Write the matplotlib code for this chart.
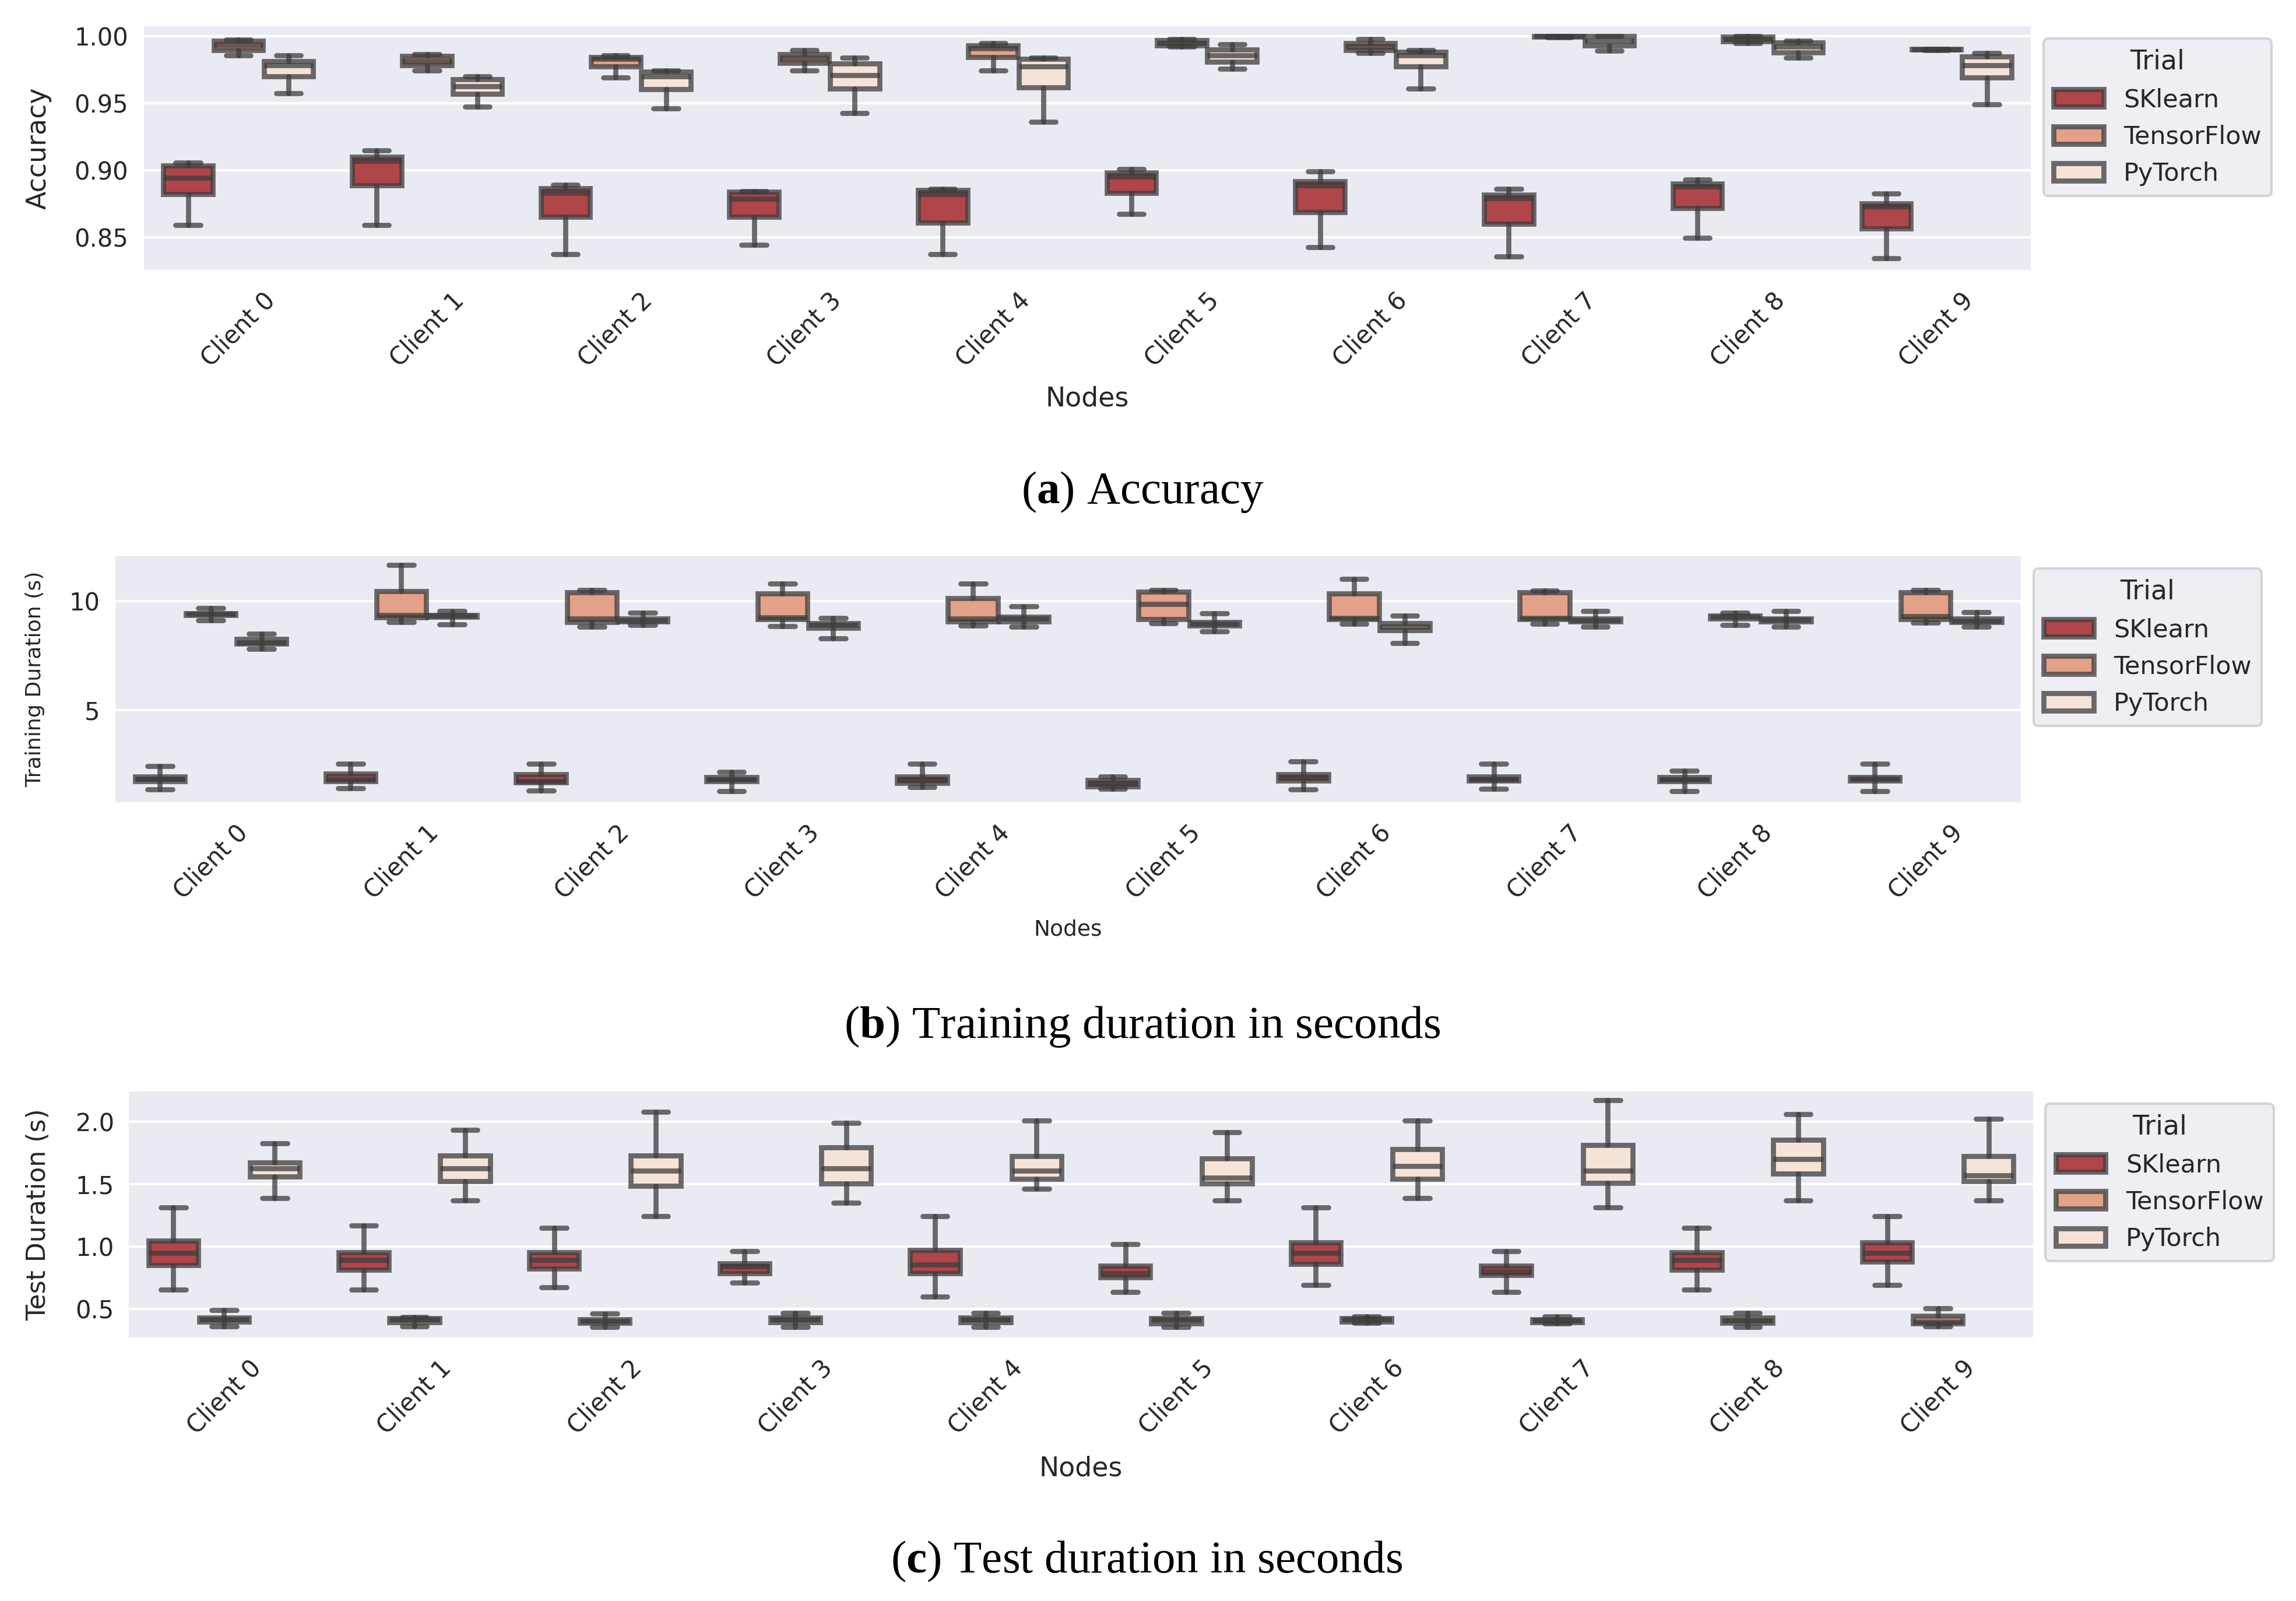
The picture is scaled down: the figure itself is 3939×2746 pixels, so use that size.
import matplotlib
matplotlib.use("Agg")
import matplotlib.pyplot as plt
import seaborn as sns
from matplotlib.patches import Patch

# ---------------- data ----------------
clients = [f"Client {i}" for i in range(10)]
trials = ["SKlearn", "TensorFlow", "PyTorch"]

# each entry: (whisker low, Q1, median, Q3, whisker high)
acc_sklearn = [(0.8593, 0.8823, 0.8943, 0.9033, 0.9055), (0.8593, 0.8888, 0.9070, 0.9099, 0.9147),
               (0.8375, 0.8651, 0.8830, 0.8866, 0.8891), (0.8443, 0.8651, 0.8787, 0.8838, 0.8845),
               (0.8375, 0.8608, 0.8820, 0.8852, 0.8859), (0.8675, 0.8830, 0.8953, 0.8981, 0.9010),
               (0.8425, 0.8687, 0.8888, 0.8917, 0.8991), (0.8356, 0.8601, 0.8790, 0.8816, 0.8859),
               (0.8493, 0.8717, 0.8877, 0.8899, 0.8929), (0.8342, 0.8565, 0.8730, 0.8751, 0.8826)]
acc_tensorflow = [(0.9858, 0.9897, 0.9933, 0.9966, 0.9972), (0.9744, 0.9782, 0.9815, 0.9851, 0.9865),
                  (0.9693, 0.9775, 0.9830, 0.9845, 0.9858), (0.9744, 0.9800, 0.9837, 0.9865, 0.9897),
                  (0.9744, 0.9844, 0.9910, 0.9930, 0.9948), (0.9923, 0.9930, 0.9950, 0.9970, 0.9980),
                  (0.9872, 0.9897, 0.9923, 0.9948, 0.9980), (0.9990, 0.9995, 1.0000, 1.0000, 1.0000),
                  (0.9950, 0.9960, 0.9980, 0.9995, 1.0000), (0.9895, 0.9900, 0.9901, 0.9903, 0.9905)]
acc_pytorch = [(0.9576, 0.9698, 0.9782, 0.9815, 0.9858), (0.9474, 0.9570, 0.9626, 0.9680, 0.9700),
               (0.9460, 0.9605, 0.9700, 0.9736, 0.9744), (0.9425, 0.9607, 0.9708, 0.9794, 0.9841),
               (0.9360, 0.9619, 0.9776, 0.9832, 0.9841), (0.9758, 0.9810, 0.9858, 0.9900, 0.9940),
               (0.9607, 0.9772, 0.9858, 0.9883, 0.9894), (0.9890, 0.9930, 0.9965, 1.0000, 1.0000),
               (0.9841, 0.9880, 0.9923, 0.9954, 0.9966), (0.9493, 0.9693, 0.9784, 0.9850, 0.9872)]

train_sklearn = [(1.37, 1.72, 1.85, 1.95, 2.42), (1.42, 1.72, 1.82, 2.08, 2.53),
                 (1.30, 1.69, 1.74, 2.06, 2.53), (1.28, 1.72, 1.80, 1.92, 2.17),
                 (1.46, 1.66, 1.80, 1.95, 2.53), (1.38, 1.50, 1.62, 1.78, 1.95),
                 (1.37, 1.77, 1.90, 2.06, 2.64), (1.39, 1.77, 1.80, 1.95, 2.53),
                 (1.28, 1.72, 1.80, 1.92, 2.22), (1.28, 1.77, 1.85, 1.92, 2.53)]
train_tensorflow = [(9.11, 9.36, 9.39, 9.42, 9.66), (9.03, 9.25, 9.35, 10.45, 11.64),
                    (8.81, 9.03, 9.19, 10.40, 10.50), (8.85, 9.15, 9.25, 10.35, 10.78),
                    (8.88, 9.05, 9.20, 10.12, 10.79), (8.98, 9.16, 9.85, 10.43, 10.50),
                    (8.95, 9.15, 9.22, 10.34, 11.00), (8.95, 9.15, 9.22, 10.40, 10.48),
                    (8.90, 9.20, 9.26, 9.32, 9.45), (8.99, 9.15, 9.30, 10.40, 10.50)]
train_pytorch = [(7.79, 8.04, 8.10, 8.25, 8.50), (8.93, 9.28, 9.32, 9.36, 9.53),
                 (8.90, 9.05, 9.10, 9.18, 9.45), (8.28, 8.76, 8.90, 8.97, 9.22),
                 (8.81, 9.06, 9.18, 9.28, 9.75), (8.59, 8.88, 8.95, 9.03, 9.44),
                 (8.07, 8.65, 8.81, 8.97, 9.32), (8.81, 9.06, 9.12, 9.19, 9.53),
                 (8.81, 9.06, 9.13, 9.20, 9.53), (8.81, 9.02, 9.08, 9.19, 9.48)]

test_sklearn = [(0.654, 0.850, 0.949, 1.050, 1.316), (0.654, 0.814, 0.892, 0.957, 1.171),
                (0.674, 0.826, 0.895, 0.957, 1.153), (0.710, 0.787, 0.842, 0.864, 0.965),
                (0.601, 0.787, 0.857, 0.973, 1.245), (0.638, 0.756, 0.785, 0.848, 1.021),
                (0.693, 0.861, 0.949, 1.032, 1.316), (0.638, 0.772, 0.800, 0.848, 0.965),
                (0.654, 0.814, 0.893, 0.957, 1.153), (0.693, 0.881, 0.949, 1.032, 1.245)]
test_tensorflow = [(0.363, 0.400, 0.418, 0.430, 0.492), (0.363, 0.395, 0.418, 0.425, 0.435),
                   (0.355, 0.390, 0.405, 0.420, 0.464), (0.355, 0.395, 0.418, 0.430, 0.470),
                   (0.355, 0.395, 0.418, 0.430, 0.470), (0.355, 0.385, 0.420, 0.425, 0.470),
                   (0.390, 0.400, 0.418, 0.425, 0.440), (0.385, 0.395, 0.410, 0.420, 0.440),
                   (0.355, 0.390, 0.410, 0.430, 0.470), (0.360, 0.385, 0.400, 0.445, 0.508)]
test_pytorch = [(1.389, 1.560, 1.627, 1.672, 1.827), (1.370, 1.525, 1.627, 1.730, 1.936),
                (1.245, 1.487, 1.607, 1.730, 2.080), (1.353, 1.505, 1.627, 1.797, 1.991),
                (1.464, 1.541, 1.607, 1.727, 2.008), (1.370, 1.505, 1.552, 1.706, 1.918),
                (1.389, 1.541, 1.646, 1.781, 2.008), (1.316, 1.510, 1.607, 1.815, 2.174),
                (1.370, 1.583, 1.700, 1.854, 2.062), (1.370, 1.526, 1.571, 1.727, 2.026)]

# ---------------- style ----------------
trial_colors = ["#B0454A", "#E3A189", "#F5E3D8"]
LINE = (0.24, 0.24, 0.24, 0.75)
LW = 2.1

sns.set_theme(style="darkgrid")
plt.rcParams["font.family"] = ["DejaVu Sans"]
plt.rcParams["mathtext.fontset"] = "custom"
plt.rcParams["mathtext.rm"] = "Liberation Serif"
plt.rcParams["mathtext.bf"] = "Liberation Serif:bold"

fig = plt.figure(figsize=(3939 / 300, 2746 / 300), dpi=300)

panels = [
    dict(rect=[0.0627, 0.8314, 0.8218, 0.1522], series=[acc_sklearn, acc_tensorflow, acc_pytorch],
         ylabel="Accuracy", ylim=(0.8256, 1.0074), yticks=[0.85, 0.90, 0.95, 1.00], fmt="{:.2f}",
         ylab_fs=11, xlab_fs=11, ylab_x=-0.049, xlab_y=-0.476, ypad=6.5,
         caption=r"($\mathbf{a}$) Accuracy", cap_xy=(1960, 844)),
    dict(rect=[0.0503, 0.4989, 0.8299, 0.1537], series=[train_sklearn, train_tensorflow, train_pytorch],
         ylabel="Training Duration (s)", ylim=(0.77, 12.05), yticks=[5, 10], fmt="{:d}",
         ylab_fs=8.7, xlab_fs=9, ylab_x=-0.037, xlab_y=-0.476, ypad=6.5,
         caption=r"($\mathbf{b}$) Training duration in seconds", cap_xy=(1960, 1761)),
    dict(rect=[0.0561, 0.1646, 0.8294, 0.1537], series=[test_sklearn, test_tensorflow, test_pytorch],
         ylabel="Test Duration (s)", ylim=(0.273, 2.244), yticks=[0.5, 1.0, 1.5, 2.0], fmt="{:.1f}",
         ylab_fs=10.6, xlab_fs=11, ylab_x=-0.041, xlab_y=-0.479, ypad=6,
         caption=r"($\mathbf{c}$) Test duration in seconds", cap_xy=(1967, 2678)),
]

n_h = len(trials)
group_w = 0.8
box_w = group_w / n_h

for p in panels:
    ax = fig.add_axes(p["rect"])
    for j, (data, color) in enumerate(zip(p["series"], trial_colors)):
        off = -group_w / 2 + box_w / 2 + j * box_w
        stats = [dict(whislo=d[0], q1=d[1], med=d[2], q3=d[3], whishi=d[4], fliers=[])
                 for d in data]
        pos = [i + off for i in range(len(clients))]
        ax.bxp(stats, positions=pos, widths=box_w * 0.98, patch_artist=True,
               showfliers=False, manage_ticks=False,
               boxprops=dict(facecolor=color, edgecolor=LINE, linewidth=LW),
               whiskerprops=dict(color=LINE, linewidth=LW),
               capprops=dict(color=LINE, linewidth=LW),
               medianprops=dict(color=LINE, linewidth=LW))
    ax.set_xlim(-0.5, len(clients) - 0.5)
    ax.set_ylim(*p["ylim"])
    ax.set_xticks(range(len(clients)))
    ax.set_xticklabels(clients, rotation=45, ha="center")
    ax.set_yticks(p["yticks"])
    ax.set_yticklabels([p["fmt"].format(v) for v in p["yticks"]])
    ax.tick_params(axis="y", length=0, pad=p["ypad"], labelsize=10, colors=".15")
    ax.tick_params(axis="x", length=0, pad=7.5, labelsize=10, colors=".15")
    ax.xaxis.grid(False)
    ax.yaxis.grid(True, color="white", linewidth=1.0)
    for s in ax.spines.values():
        s.set_visible(False)
    ax.set_ylabel(p["ylabel"], fontsize=p["ylab_fs"], color=".15")
    ax.set_xlabel("Nodes", fontsize=p["xlab_fs"], color=".15")
    ax.yaxis.set_label_coords(p["ylab_x"], 0.5)
    ax.xaxis.set_label_coords(0.5, p["xlab_y"])
    handles = [Patch(facecolor=c, edgecolor=LINE, linewidth=LW, label=t)
               for t, c in zip(trials, trial_colors)]
    leg = ax.legend(handles=handles, title="Trial", loc="upper left",
                    bbox_to_anchor=(1.0, 1.0), borderaxespad=0.5,
                    fontsize=10.3, title_fontsize=11, frameon=True)
    leg.get_frame().set_facecolor("#EAEAF2")
    leg.get_frame().set_edgecolor("0.8")
    for t in leg.get_texts():
        t.set_color(".15")
    leg.get_title().set_color(".15")
    cx, cy = p["cap_xy"]
    fig.text(cx / 3939, 1 - cy / 2746, p["caption"], fontfamily="Liberation Serif",
             fontsize=19, ha="center", va="center", color="black")

fig.savefig("out.png", dpi=300)
